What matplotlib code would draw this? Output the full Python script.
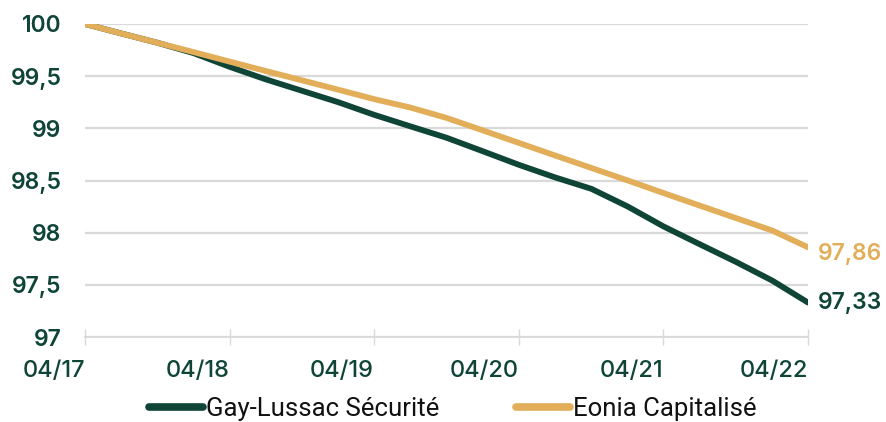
import matplotlib
matplotlib.use("Agg")
import matplotlib.pyplot as plt
import numpy as np
import pandas as pd
from matplotlib.lines import Line2D

# Quarterly readings, April 2017 -> April 2022
dates = pd.date_range("2017-04-01", "2022-04-01", freq="3MS")
gay_lussac = [100.00, 99.91, 99.82, 99.72, 99.59, 99.47, 99.36, 99.25, 99.13,
              99.02, 98.91, 98.78, 98.65, 98.53, 98.42, 98.25, 98.06, 97.89,
              97.72, 97.54, 97.33]
eonia = [100.00, 99.91, 99.82, 99.73, 99.64, 99.55, 99.46, 99.37, 99.28,
         99.20, 99.10, 98.98, 98.86, 98.74, 98.62, 98.50, 98.38, 98.26,
         98.14, 98.02, 97.86]
series_names = ["Gay-Lussac Sécurité", "Eonia Capitalisé"]
y_ticks = [97, 97.5, 98, 98.5, 99, 99.5, 100]
y_tick_labels = ["97", "97,5", "98", "98,5", "99", "99,5", "100"]
x_tick_dates = pd.to_datetime(["2017-04-01", "2018-04-01", "2019-04-01",
                               "2020-04-01", "2021-04-01", "2022-04-01"])
x_tick_labels = ["04/17", "04/18", "04/19", "04/20", "04/21", "04/22"]
end_labels = ["97,33", "97,86"]

GREEN = "#0f4536"
GOLD = "#e2ae59"
GRID = "#d9d9d9"

fig = plt.figure(figsize=(8.87, 4.22), dpi=100)
ax = fig.add_axes([85/887, 1-337/422, (808-85)/887, (337-24)/422])

ax.plot(dates, eonia, color=GOLD, lw=4.2, solid_capstyle="round", zorder=3)
ax.plot(dates, gay_lussac, color=GREEN, lw=4.2, solid_capstyle="round", zorder=2)

ax.set_xlim(dates[0], dates[-1])
ax.set_ylim(97, 100)
ax.set_yticks(y_ticks)
ax.set_yticklabels(y_tick_labels)
ax.set_xticks(x_tick_dates)
ax.set_xticklabels(x_tick_labels, ha="right")

for s in ["left", "right", "top"]:
    ax.spines[s].set_visible(False)
ax.spines["bottom"].set_color(GRID)
ax.spines["bottom"].set_linewidth(1.3)
ax.grid(axis="y", color=GRID, lw=1.6)
ax.set_axisbelow(True)

ax.tick_params(axis="y", length=0, pad=17, labelsize=16.5, labelcolor=GREEN)
ax.tick_params(axis="x", direction="inout", length=11, width=1, color=GRID,
               pad=11, labelsize=17, labelcolor=GREEN)
for lab in ax.get_yticklabels():
    lab.set_fontfamily("Inter")
    lab.set_fontweight("semibold")
for lab in ax.get_xticklabels():
    lab.set_fontfamily("Inter")
    lab.set_fontweight("medium")

# End-of-line value labels
ax.annotate(end_labels[0], xy=(dates[-1], gay_lussac[-1]), xytext=(7, 0),
            textcoords="offset points", ha="left", va="center",
            fontsize=16.5, color=GREEN, fontfamily="Inter", fontweight="semibold",
            annotation_clip=False)
ax.annotate(end_labels[1], xy=(dates[-1], eonia[-1]), xytext=(7, -5),
            textcoords="offset points", ha="left", va="center",
            fontsize=16.5, color=GOLD, fontfamily="Inter", fontweight="semibold",
            annotation_clip=False)

handles = [Line2D([0], [0], color=GREEN, lw=5.5, solid_capstyle="round"),
           Line2D([0], [0], color=GOLD, lw=5.5, solid_capstyle="round")]
leg = fig.legend(handles, series_names, loc="center", ncol=2,
                 bbox_to_anchor=(453/887, 1-409/422), frameon=False,
                 handlelength=2.1, handletextpad=0.12, columnspacing=3.0,
                 borderpad=0, prop={"family": "Roboto", "size": 18.5})
for t in leg.get_texts():
    t.set_color("#111111")

fig.savefig("out.png", dpi=100)
